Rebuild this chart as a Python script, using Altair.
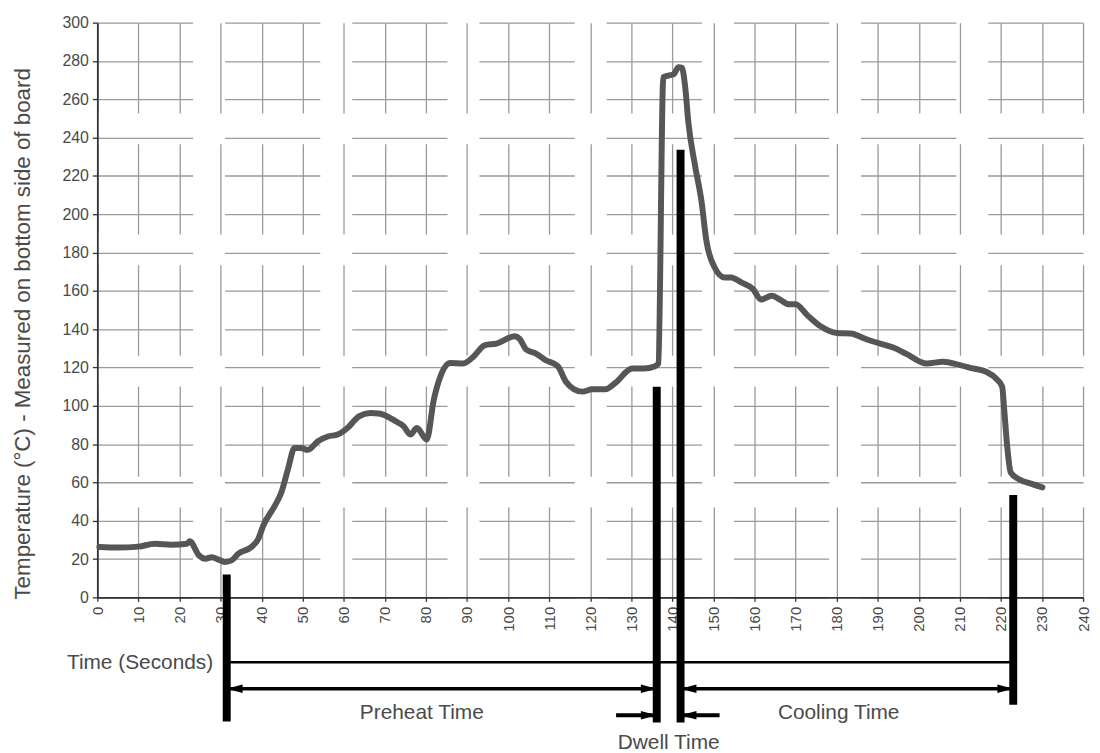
import altair as alt
import pandas as pd

# ---- temperature profile ----
time_s = [0.5, 5, 10, 14, 18, 21.8, 22.5, 24.7, 26.3, 27.9, 29.5, 31.1, 32.7, 34.3, 37.5,
          39.2, 40.4, 43.2, 44.8, 46.4, 48, 49.6, 51.2, 53.7, 56.1, 58.5, 60.9, 63.7, 66.5,
          68.5, 72.6, 74.6, 76.2, 77.8, 80.2, 81.9, 83.5, 85.9, 89.1, 91.5, 94.3, 97.2, 101.6,
          102.8, 104.4, 106.8, 109.2, 112.1, 114.1, 116.1, 118.1, 120.5, 123.7, 126.2, 130.2,
          133, 135.8, 136.6, 137.8, 139.0, 140.3, 141.5, 142.3, 143.1, 143.9, 145.5, 147.1,
          148.3, 150.3, 152.7, 154.3, 156.8, 159.6, 161.6, 164.2, 166.5, 168.3, 170, 172.9,
          176.1, 180.1, 183.4, 187.4, 190.6, 193.8, 197.1, 201.9, 205.9, 210, 213.2, 216.4,
          218.8, 220.3, 220.8, 221.6, 222.4, 224.4, 227.7, 230.1]
temp_c = [26.3, 26, 26.5, 28, 27.5, 28, 29.3, 22, 20.2, 21, 19.7, 18.5, 19.3, 22.8, 26.3,
          30.6, 37.5, 47.8, 54.8, 66.8, 78, 78, 77, 81.5, 84, 85, 88.4, 94.5, 96.2,
          96, 92, 89.3, 85, 88.4, 82.4, 103, 115.2, 122.4, 122.1, 125.5, 131.6, 132.5, 136.3,
          135, 129.4, 127.3, 123.8, 120.7, 112.6, 108.6, 107.4, 108.6, 108.6, 112.1, 119.5,
          119.5, 120.7, 122.1, 271.5, 272.4, 273, 276.7, 276.5, 267, 248, 225.7, 206.7,
          186, 172.2, 167, 167, 164.4, 161, 155.5, 157.5, 155, 153, 153, 147.2,
          141.5, 138, 137.7, 134.6, 132.5, 130.4, 127, 122.1, 123, 121.2, 119.5, 117.8,
          114.3, 110, 97.9, 77.2, 65.1, 61.7, 59.1, 57.4]

x_ticks = list(range(0, 241, 10))
y_ticks = list(range(0, 301, 20))

# ---- phase marker bars ----
bar_time = [31.5, 136.2, 142.0, 223.0]
bar_top = [12, 110, 233.7, 53.4]
bar_bottom = [-64.8, -65.3, -65.3, -56.0]

# ---- horizontal spans (time line, arrows) ----
span_start = [31.5, 31.5, 142.0, 126.3, 142.0]
span_end = [223.0, 136.2, 223.0, 136.2, 151.5]
span_level = [-33.8, -47.7, -47.7, -61.5, -61.5]
span_width = [2.5, 3.5, 3.5, 4.0, 4.0]

# ---- arrow heads ----
head_right_time = [136.2, 223.0, 136.2]
head_right_level = [-47.7, -47.7, -61.5]
head_left_time = [31.5, 142.0, 142.0]
head_left_level = [-47.7, -47.7, -61.5]

# ---- labels ----
center_labels = ["Preheat Time", "Cooling Time", "Dwell Time"]
center_label_time = [79.0, 180.5, 139.1]
center_label_level = [-63.6, -63.6, -79.1]
axis_label = ["Time (Seconds)"]
axis_label_time = [28.2]
axis_label_level = [-37.3]

FONT = "Liberation Sans"
TXT = "#4a4a4a"

xs = alt.Scale(domain=[0, 240], nice=False, zero=False)
ys = alt.Scale(domain=[0, 300], nice=False, zero=False)

curve = pd.DataFrame({"t": time_s, "temp": temp_c})
bars = pd.DataFrame({"t": bar_time, "top": bar_top, "bottom": bar_bottom})
spans = pd.DataFrame({"t1": span_start, "t2": span_end, "lvl": span_level, "w": span_width})
hr = pd.DataFrame({"t": head_right_time, "lvl": head_right_level})
hl = pd.DataFrame({"t": head_left_time, "lvl": head_left_level})
lab_c = pd.DataFrame({"txt": center_labels, "t": center_label_time, "lvl": center_label_level})
lab_a = pd.DataFrame({"txt": axis_label, "t": axis_label_time, "lvl": axis_label_level})

x_axis = alt.Axis(values=x_ticks, labelAngle=-90, labelFontSize=15, labelFont=FONT,
                  labelColor=TXT, labelPadding=5, labelFlush=False, labelOverlap=False,
                  tickSize=4, tickColor="#333333", tickWidth=1.3,
                  domainColor="#333333", domainWidth=1.6,
                  grid=True, gridDash=[91, 31], gridColor="#9a9a9a", gridWidth=1.3,
                  title=None)
y_axis = alt.Axis(values=y_ticks, labelFontSize=16, labelFont=FONT, labelColor=TXT,
                  labelPadding=4, tickSize=5, tickColor="#333333", tickWidth=1.3,
                  domainColor="#333333", domainWidth=1.8,
                  grid=True, gridDash=[96, 32.14], gridColor="#9a9a9a", gridWidth=1.3,
                  title="Temperature (°C) - Measured on bottom side of board",
                  titleFont=FONT, titleFontSize=22.5, titleFontWeight="normal",
                  titleColor=TXT, titleX=-75, titleY=313, titleBaseline="middle",
                  titleAlign="center", titleAngle=270)


def X(field):
    return alt.X(field, scale=xs, axis=x_axis)


def Y(field):
    return alt.Y(field, scale=ys, axis=y_axis)


line = alt.Chart(curve).mark_line(
    color="#565656", strokeWidth=6, interpolate="monotone",
    strokeCap="round", strokeJoin="round"
).encode(x=X("t:Q"), y=Y("temp:Q"))

bar_layer = alt.Chart(bars).mark_rule(color="black", strokeWidth=8, strokeCap="butt").encode(
    x=X("t:Q"), y=Y("top:Q"), y2="bottom:Q",
)

span_layer = alt.Chart(spans).mark_rule(color="black", strokeCap="butt").encode(
    x=X("t1:Q"), x2="t2:Q", y=Y("lvl:Q"),
    strokeWidth=alt.StrokeWidth("w:Q", scale=None, legend=None),
)

right_head = alt.Chart(hr).mark_point(
    shape="M0,0L-5.33,-1.4L-5.33,1.4Z", filled=True, size=36, color="black",
    opacity=1, strokeWidth=0
).encode(x=X("t:Q"), y=Y("lvl:Q"))

left_head = alt.Chart(hl).mark_point(
    shape="M0,0L5.33,-1.4L5.33,1.4Z", filled=True, size=36, color="black",
    opacity=1, strokeWidth=0
).encode(x=X("t:Q"), y=Y("lvl:Q"))

text_c = alt.Chart(lab_c).mark_text(
    font=FONT, fontSize=21, color=TXT, align="center", baseline="alphabetic"
).encode(x=X("t:Q"), y=Y("lvl:Q"), text="txt:N")

text_a = alt.Chart(lab_a).mark_text(
    font=FONT, fontSize=21, color=TXT, align="right", baseline="alphabetic"
).encode(x=X("t:Q"), y=Y("lvl:Q"), text="txt:N")

chart = alt.layer(line, bar_layer, span_layer, right_head, left_head, text_c, text_a).properties(
    width=993, height=579,
    padding={"left": 90, "top": 12, "right": 9, "bottom": 154},
    autosize=alt.AutoSizeParams(type="none"),
    background="white",
).configure_view(stroke=None)

chart.save("out.html", embed_options={"renderer": "svg", "actions": False})
